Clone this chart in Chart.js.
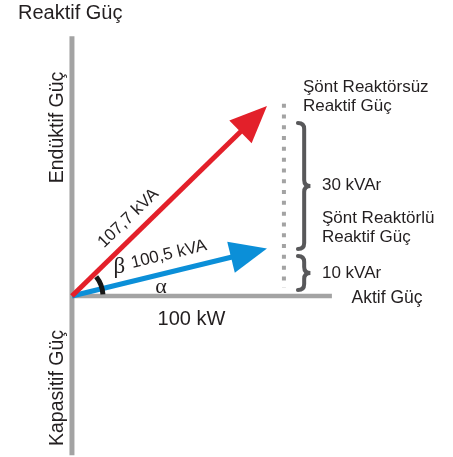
<!DOCTYPE html>
<html><head><meta charset="utf-8">
<script src="https://cdn.jsdelivr.net/npm/chart.js@4.4.1/dist/chart.umd.min.js"></script>
<style>html,body{margin:0;padding:0;background:#fff}#wrap{width:453px;height:457px;position:relative}</style>
</head><body><div id="wrap"><canvas id="c"></canvas></div>
<script>
// ---- data (kW / kVAr) ----
const activePower = [0, 100];              // Aktif güç, kW
const reactiveWithout = [0, 40];           // Şönt reaktörsüz reaktif güç, kVAr
const reactiveWith = [0, 10];              // Şönt reaktörlü reaktif güç, kVAr
const apparentLabels = ['107,7 kVA', '100,5 kVA'];
const braceLabels = ['30 kVAr', '10 kVAr'];
const braceRanges = [[10, 40], [0, 10]];   // kVAr spans marked by braces
const axisLabels = ['Reaktif Güç', 'Endüktif Güç', 'Kapasitif Güç', 'Aktif Güç', '100 kW'];

const RED = '#e3202a', BLUE = '#0b8fd8', GRAY = '#a3a3a3', INK = '#231f20', BRACE = '#58585a';
const refX = 108.7; // dotted reactive reference line

const pts = (xs, ys) => xs.map((v, i) => ({x: v, y: ys[i]}));

const arrowPlugin = {
  id: 'arrows',
  geom(chart, ds) {
    const d = ds.data;
    const a = d[d.length - 2], b = d[d.length - 1];
    const sx = chart.scales.x, sy = chart.scales.y;
    const x0 = sx.getPixelForValue(a.x), y0 = sy.getPixelForValue(a.y);
    const x1 = sx.getPixelForValue(b.x), y1 = sy.getPixelForValue(b.y);
    const len = Math.hypot(x1 - x0, y1 - y0);
    const ux = (x1 - x0) / len, uy = (y1 - y0) / len;
    return {x0, y0, x1, y1, ux, uy, nx: -uy, ny: ux, L: 37, hw: 16};
  },
  beforeDatasetDraw(chart, args) {
    const ds = chart.data.datasets[args.index];
    if (!ds.arrow) return;
    const g = this.geom(chart, ds), ctx = chart.ctx;
    const bx = g.x1 - g.ux * (g.L - 3), by = g.y1 - g.uy * (g.L - 3);
    const w = g.hw + 6;
    ctx.save();
    ctx.beginPath();
    ctx.rect(0, 0, chart.width, chart.height);
    ctx.moveTo(bx + g.nx * w, by + g.ny * w);
    ctx.lineTo(g.x1 + g.ux * 10 + g.nx * w, g.y1 + g.uy * 10 + g.ny * w);
    ctx.lineTo(g.x1 + g.ux * 10 - g.nx * w, g.y1 + g.uy * 10 - g.ny * w);
    ctx.lineTo(bx - g.nx * w, by - g.ny * w);
    ctx.closePath();
    ctx.clip('evenodd');
  },
  afterDatasetDraw(chart, args) {
    const ds = chart.data.datasets[args.index];
    if (!ds.arrow) return;
    const ctx = chart.ctx;
    ctx.restore();
    const g = this.geom(chart, ds);
    const bx = g.x1 - g.ux * g.L, by = g.y1 - g.uy * g.L;
    ctx.save();
    ctx.fillStyle = ds.borderColor;
    ctx.beginPath();
    ctx.moveTo(g.x1, g.y1);
    ctx.lineTo(bx + g.nx * g.hw, by + g.ny * g.hw);
    ctx.lineTo(bx - g.nx * g.hw, by - g.ny * g.hw);
    ctx.closePath();
    ctx.fill();
    ctx.restore();
  }
};

function brace(ctx, x0, yTop, yBot, w) {
  const ym = (yTop + yBot) / 2, xs = x0 + w / 2, r = Math.min(6, (yBot - yTop) / 5);
  ctx.beginPath();
  ctx.moveTo(x0, yTop);
  ctx.quadraticCurveTo(xs, yTop, xs, yTop + r);
  ctx.lineTo(xs, ym - r);
  ctx.quadraticCurveTo(xs, ym, x0 + w, ym);
  ctx.quadraticCurveTo(xs, ym, xs, ym + r);
  ctx.lineTo(xs, yBot - r);
  ctx.quadraticCurveTo(xs, yBot, x0, yBot);
  ctx.stroke();
}

const labelPlugin = {
  id: 'labels',
  afterDraw(chart) {
    const ctx = chart.ctx, sx = chart.scales.x, sy = chart.scales.y;
    const ox = sx.getPixelForValue(0), oy = sy.getPixelForValue(0);
    const rx = sx.getPixelForValue(refX);
    const F = (s) => s + 'px "Liberation Sans", Arial, sans-serif';
    ctx.save();
    ctx.fillStyle = INK;
    ctx.textBaseline = 'alphabetic';
    // top title
    ctx.font = F(20); ctx.textAlign = 'left';
    ctx.fillText(axisLabels[0], 18, 19);
    // vertical labels
    ctx.font = F(19.5); ctx.textAlign = 'center';
    [[axisLabels[1], 127.5], [axisLabels[2], 388]].forEach(([t, cy]) => {
      ctx.save(); ctx.translate(ox - 8.5, cy); ctx.rotate(-Math.PI / 2);
      ctx.fillText(t, 0, 0); ctx.restore();
    });
    // horizontal axis labels
    ctx.font = F(17.5); ctx.textAlign = 'left';
    ctx.fillText(axisLabels[3], 351.5, 303);
    ctx.font = F(20); ctx.textAlign = 'center';
    ctx.fillText(axisLabels[4], 191.5, 325);
    // right side labels
    ctx.font = F(17); ctx.textAlign = 'left';
    ctx.fillText('Şönt Reaktörsüz', rx + 19, 91.7);
    ctx.fillText('Reaktif Güç', rx + 19, 110.7);
    ctx.fillText(braceLabels[0], rx + 38, 190);
    ctx.fillText('Şönt Reaktörlü', rx + 38, 222.7);
    ctx.fillText('Reaktif Güç', rx + 38, 241.7);
    ctx.fillText(braceLabels[1], rx + 38, 277.7);
    // braces
    ctx.strokeStyle = BRACE; ctx.lineWidth = 4; ctx.lineCap = 'round';
    const b0 = braceRanges[0], b1 = braceRanges[1];
    brace(ctx, rx + 14, sy.getPixelForValue(b0[1]) + 17, sy.getPixelForValue(b0[0]) + 0.5, 12.5);
    brace(ctx, rx + 14, sy.getPixelForValue(b1[1]) + 7.5, sy.getPixelForValue(b1[0]) - 6, 12.5);
    // rotated vector labels
    const vec = (xv, yv) => {
      const x1 = sx.getPixelForValue(xv), y1 = sy.getPixelForValue(yv);
      const L = Math.hypot(x1 - ox, y1 - oy);
      const ux = (x1 - ox) / L, uy = (y1 - oy) / L;
      return {ux, uy, nx: uy, ny: -ux, ang: Math.atan2(y1 - oy, x1 - ox)};
    };
    const red = vec(activePower[1], reactiveWithout[1]);
    const blue = vec(activePower[1], reactiveWith[1]);
    const place = (v, along, perp) => [ox + v.ux * along + v.nx * perp, oy + v.uy * along + v.ny * perp];
    ctx.textAlign = 'center'; ctx.textBaseline = 'middle';
    ctx.font = F(17);
    let p = place(red, 94.6, 16.3);
    ctx.save(); ctx.translate(p[0], p[1]); ctx.rotate(red.ang); ctx.fillText(apparentLabels[0], 0, 0); ctx.restore();
    ctx.font = F(17);
    p = place(blue, 104, 17.5);
    ctx.save(); ctx.translate(p[0], p[1]); ctx.rotate(blue.ang); ctx.fillText(apparentLabels[1], 0, 0); ctx.restore();
    // greek letters
    ctx.font = '23px "Liberation Serif", "Times New Roman", serif';
    p = place(blue, 53, 17);
    ctx.fillText('β', p[0], p[1]);
    ctx.font = '22px "Liberation Serif", "Times New Roman", serif';
    ctx.fillText('α', ox + 89, oy - 9);
    // angle arc
    ctx.strokeStyle = '#161616'; ctx.lineWidth = 5; ctx.lineCap = 'butt';
    ctx.beginPath();
    ctx.arc(ox, oy, 31, red.ang + 0.1, -0.05);
    ctx.stroke();
    ctx.restore();
  }
};

new Chart(document.getElementById('c'), {
  type: 'scatter',
  data: {
    datasets: [
      {data: pts(activePower, reactiveWithout), showLine: true, borderColor: RED, borderWidth: 5, pointRadius: 0, borderCapStyle: 'butt', arrow: true},
      {data: pts(activePower, reactiveWith), showLine: true, borderColor: BLUE, borderWidth: 5, pointRadius: 0, borderCapStyle: 'butt', arrow: true},
      {data: [{x: refX, y: reactiveWithout[1] + 0.5}, {x: refX, y: reactiveWith[0] + 1.8}], showLine: true, borderColor: GRAY, borderWidth: 4, borderDash: [4, 6.8], pointRadius: 0, borderCapStyle: 'butt'},
      {data: [{x: 0, y: 0}, {x: 133.3, y: 0}], showLine: true, borderColor: GRAY, borderWidth: 4.5, pointRadius: 0, borderCapStyle: 'butt'},
      {data: [{x: 0, y: -33.5}, {x: 0, y: 54.7}], showLine: true, borderColor: GRAY, borderWidth: 5, pointRadius: 0, borderCapStyle: 'butt'}
    ]
  },
  options: {
    responsive: true, maintainAspectRatio: false, animation: false, events: [],
    layout: {padding: 0, autoPadding: false},
    plugins: {legend: {display: false}, tooltip: {enabled: false}, title: {display: false}},
    scales: {
      x: {type: 'linear', min: -36.9, max: 195.4, display: false},
      y: {type: 'linear', min: -33.89, max: 62.32, display: false}
    }
  },
  plugins: [arrowPlugin, labelPlugin]
});
</script>
</body></html>
